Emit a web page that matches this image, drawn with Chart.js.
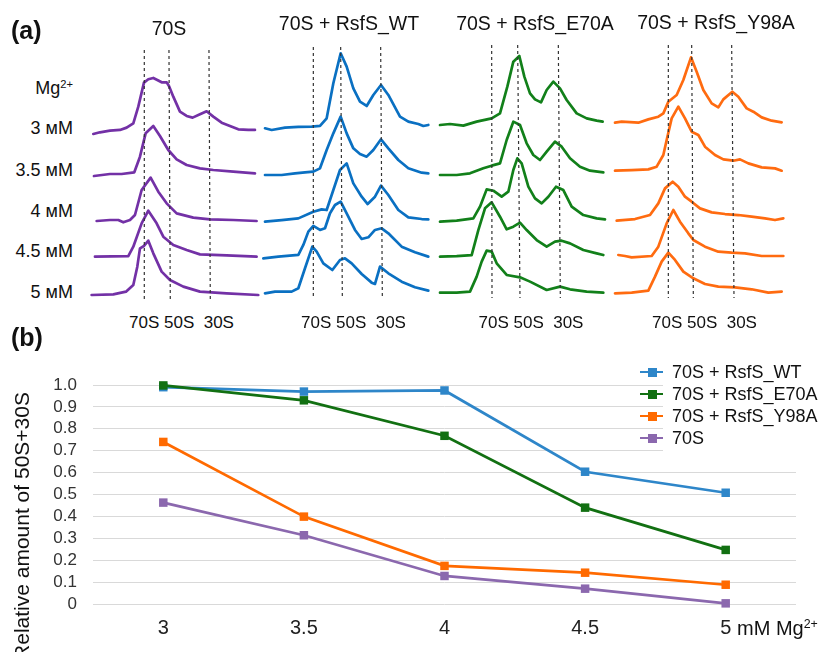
<!DOCTYPE html>
<html>
<head>
<meta charset="utf-8">
<script src="https://cdn.jsdelivr.net/npm/chart.js@4.4.0/dist/chart.umd.min.js"></script>
<style>
  body { margin: 0; width: 820px; height: 652px; overflow: hidden; background: #fff; position: relative;
         font-family: "Liberation Sans", Arial, sans-serif; color: #111; }
  canvas { position: absolute; }
  .t { position: absolute; white-space: pre; line-height: 1; }
  .c { transform: translate(-50%, -50%); }
  .r { transform: translate(-100%, -50%); }
  .l { transform: translate(0, -50%); }
  sup { font-size: 0.62em; vertical-align: 0.55em; line-height: 0; }
</style>
</head>
<body>
<script>
// ---------- data ----------
const panelTitles = ['70S', '70S + RsfS_WT', '70S + RsfS_E70A', '70S + RsfS_Y98A'];
const mgRows = ['3 мМ', '3.5 мМ', '4 мМ', '4.5 мМ', '5 мМ'];
const peakNames = '70S 50S  30S';

// sucrose gradient profiles, [position, absorbance] (a.u.), one list per Mg2+ row
const profile70S = [
  [[0,-2],[20,3],[50,8],[80,10],[100,17],[120,30],[135,80],[152,152],[165,162],[180,166],[192,160],[205,153],[220,153],[227,142],[240,110],[260,65],[280,52],[298,47],[320,57],[340,66],[360,50],[385,32],[410,22],[435,12],[465,10],[485,10]],
  [[2,0],[50,6],[85,6],[123,11],[140,58],[157,128],[180,150],[200,120],[225,78],[250,50],[280,33],[320,23],[360,18],[420,13],[485,8]],
  [[10,0],[50,3],[75,3],[90,-4],[110,3],[125,18],[145,93],[172,130],[195,88],[220,53],[250,23],[300,10],[350,5],[420,3],[490,0]],
  [[5,0],[105,2],[120,30],[145,100],[165,138],[190,100],[210,60],[240,35],[280,20],[320,7],[400,4],[490,0]],
  [[-5,0],[60,2],[98,10],[120,30],[132,85],[140,140],[152,147],[165,163],[180,125],[205,70],[230,45],[270,25],[320,10],[400,5],[495,0]]
];
const profileWT = [
  [[0,0],[20,-5],[60,2],[100,4],[140,5],[165,7],[185,30],[205,135],[227,225],[245,185],[265,120],[285,80],[305,67],[325,100],[348,130],[370,100],[405,35],[430,20],[460,13],[475,7],[490,10]],
  [[0,0],[50,0],[90,5],[120,8],[145,10],[165,20],[185,75],[205,125],[227,175],[245,125],[265,80],[285,63],[305,55],[325,75],[348,107],[370,80],[400,45],[430,20],[470,7],[490,5]],
  [[0,0],[50,5],[100,10],[145,30],[170,37],[185,35],[205,95],[225,155],[245,175],[265,115],[290,75],[308,53],[330,75],[348,108],[370,80],[400,35],[430,13],[470,8],[490,7]],
  [[-5,0],[40,5],[100,10],[115,40],[130,80],[145,97],[165,85],[180,90],[195,135],[210,160],[227,170],[245,135],[270,85],[290,58],[310,63],[330,85],[350,90],[370,75],[410,35],[450,18],[490,5]],
  [[0,0],[30,5],[80,5],[100,15],[120,75],[142,140],[155,125],[175,90],[202,70],[225,100],[240,105],[260,90],[290,58],[320,32],[330,28],[345,80],[370,60],[410,35],[450,18],[490,8]]
];
const profileE70A = [
  [[0,0],[30,3],[70,-2],[110,10],[155,20],[180,35],[202,115],[220,190],[238,207],[253,145],[270,95],[285,77],[303,68],[320,105],[340,130],[360,110],[380,75],[410,35],[440,20],[470,13],[488,10]],
  [[0,0],[50,0],[90,5],[130,20],[155,28],[180,35],[200,105],[220,160],[240,150],[260,95],[280,60],[300,45],[320,70],[345,100],[365,85],[390,50],[420,25],[450,13],[490,8]],
  [[0,0],[50,3],[100,10],[120,45],[140,97],[160,93],[185,75],[205,90],[220,155],[232,190],[245,175],[265,105],[285,70],[305,55],[325,75],[348,105],[370,95],[395,45],[430,20],[470,10],[495,7]],
  [[0,0],[50,2],[95,5],[115,80],[135,145],[155,163],[180,120],[200,82],[220,90],[240,102],[260,80],[290,50],[320,30],[345,45],[365,48],[390,40],[430,20],[470,10],[490,5]],
  [[0,2],[50,2],[90,5],[110,50],[125,95],[140,128],[155,125],[170,90],[200,55],[240,48],[270,35],[320,10],[360,20],[390,12],[440,5],[490,2]]
];
const profileY98A = [
  [[0,0],[20,3],[70,0],[100,10],[130,18],[145,28],[160,63],[185,83],[205,128],[228,196],[245,153],[265,98],[290,58],[310,46],[325,70],[352,93],[370,78],[395,43],[415,33],[440,16],[470,6],[500,1]],
  [[0,0],[50,2],[100,4],[125,12],[145,47],[155,92],[170,157],[190,192],[210,157],[230,117],[250,107],[270,72],[300,47],[325,34],[355,30],[375,34],[400,22],[440,10],[480,7],[500,0]],
  [[5,0],[60,5],[105,17],[130,52],[150,97],[173,117],[190,102],[210,72],[230,57],[255,37],[290,25],[330,20],[370,17],[410,12],[450,7],[480,2],[505,7]],
  [[10,0],[30,-3],[50,-7],[110,-3],[130,25],[155,95],[175,135],[195,100],[220,65],[235,45],[270,25],[310,10],[350,7],[390,5],[440,-3],[505,-3]],
  [[0,0],[50,2],[100,8],[120,50],[140,95],[160,122],[180,100],[205,65],[235,45],[270,28],[310,20],[360,18],[410,12],[460,2],[500,5]]
];
// 70S / 50S / 30S reference positions [top, bottom] per panel
const peakGuides = [
  [[153,153],[227,231],[347,351]],
  [[145,145],[227,232],[347,352]],
  [[155,156],[233,240],[355,361]],
  [[160,160],[230,235],[350,357]]
];

// panel (b)
const mgConc = ['3', '3.5', '4', '4.5', '5'];
const seriesNames = ['70S + RsfS_WT', '70S + RsfS_E70A', '70S + RsfS_Y98A', '70S'];
const relWT   = [0.99, 0.97, 0.975, 0.604, 0.508];
const relE70A = [0.998, 0.93, 0.768, 0.44, 0.247];
const relY98A = [0.74, 0.399, 0.174, 0.143, 0.088];
const rel70S  = [0.463, 0.314, 0.128, 0.07, 0.003];
const yTicks  = [0, 0.1, 0.2, 0.3, 0.4, 0.5, 0.6, 0.7, 0.8, 0.9, 1.0];

// ---------- layout ----------
const FONT = '"Liberation Sans", Arial, sans-serif';
const CH = 310;           // canvas height of panel (a)
const U = 3;              // a.u. per pixel
const profiles = [profile70S, profileWT, profileE70A, profileY98A];
const profileColors = ['#7331a6', '#0a70c2', '#12801a', '#ff6b10'];
const panelGeom = [
  {start: 93.3, end: 256.7, base: [133.3, 176, 221, 256.7, 295], gTop: 50, gBot: 302, title: [169, 29], names: 181.5},
  {start: 265, end: 428.3, base: [128.3, 175, 221.7, 258.3, 293.3], gTop: 47, gBot: 298, title: [349, 24], names: 353.5},
  {start: 440, end: 603.3, base: [125, 175, 221.7, 256.7, 293.3], gTop: 45, gBot: 298, title: [535, 24], names: 531},
  {start: 615, end: 783.3, base: [122.7, 170.7, 220.7, 255, 293.3], gTop: 45, gBot: 298, title: [716, 23], names: 704.5}
];

function addText(html, x, y, cls, style) {
  const d = document.createElement('div');
  d.className = 't ' + cls;
  d.innerHTML = html;
  d.style.left = x + 'px';
  d.style.top = y + 'px';
  Object.assign(d.style, style || {});
  document.body.appendChild(d);
  return d;
}

function addCanvas(left, top, w, h) {
  const cv = document.createElement('canvas');
  cv.width = w; cv.height = h;
  cv.style.left = left + 'px'; cv.style.top = top + 'px';
  document.body.appendChild(cv);
  return cv;
}

// ---------- panel (a) ----------
panelGeom.forEach((g, i) => {
  const left = Math.floor(g.start) - 6;
  const width = Math.ceil(g.end - left) + 6;
  const cv = addCanvas(left, 0, width, CH);
  const xMin = -(g.start - left) * U;

  const datasets = [];
  peakGuides[i].forEach(([xt, xb]) => {
    datasets.push({
      data: [{x: xt, y: (CH - g.gTop) * U}, {x: xb, y: (CH - g.gBot) * U}],
      borderColor: '#333', borderWidth: 1.2, borderDash: [3, 3], showLine: true, pointRadius: 0
    });
  });
  profiles[i].forEach((trace, r) => {
    const off = (CH - g.base[r]) * U;
    datasets.push({
      data: trace.map(([x, h]) => ({x: x, y: h + off})),
      borderColor: profileColors[i], borderWidth: 2.7, showLine: true, pointRadius: 0, tension: 0,
      borderJoinStyle: 'round', borderCapStyle: 'round'
    });
  });

  new Chart(cv, {
    type: 'scatter',
    data: {datasets},
    options: {
      responsive: false, animation: false,
      layout: {padding: 0},
      scales: {
        x: {type: 'linear', display: false, min: xMin, max: xMin + width * U},
        y: {type: 'linear', display: false, min: 0, max: CH * U}
      },
      plugins: {legend: {display: false}, tooltip: {enabled: false}}
    }
  });

  addText(panelTitles[i], g.title[0], g.title[1], 'c', {fontSize: '19.5px'});
  addText(peakNames, g.names, 322, 'c', {fontSize: '17px'});
});

addText('(a)', 11, 30, 'l', {fontSize: '25px', fontWeight: 'bold'});
addText('Mg<sup>2+</sup>', 73, 88, 'r', {fontSize: '18px'});
const rowLabelY = [128, 170, 211, 251, 292];
mgRows.forEach((t, r) => addText(t, 73, rowLabelY[r], 'r', {fontSize: '18px'}));

// ---------- panel (b) ----------
const seriesColors = ['#2e86c9', '#127012', '#ff6a00', '#8b68ae'];
const seriesData = [relWT, relE70A, relY98A, rel70S];
const drawOrder = [2, 1, 3, 4];

const cvB = addCanvas(0, 340, 820, 312);
new Chart(cvB, {
  type: 'line',
  data: {
    labels: mgConc,
    datasets: seriesData.map((d, i) => ({
      label: seriesNames[i],
      data: d,
      borderColor: seriesColors[i],
      backgroundColor: seriesColors[i],
      borderWidth: 2.7,
      pointStyle: 'rect',
      pointRadius: 6,
      pointBorderWidth: 0,
      tension: 0,
      clip: false,
      order: drawOrder[i]
    }))
  },
  options: {
    responsive: false, animation: false,
    layout: {padding: {left: 0, right: 24, top: 45, bottom: 0}},
    scales: {
      x: {
        offset: true,
        grid: {display: false},
        border: {display: false},
        ticks: {color: '#222', font: {family: FONT, size: 20}, padding: 4},
        afterFit: s => { s.height = 48; }
      },
      y: {
        min: 0, max: 1,
        grid: {color: '#d9d9d9', lineWidth: 1, drawTicks: false},
        border: {display: false},
        afterBuildTicks: s => { s.ticks = yTicks.map(v => ({value: v})); },
        ticks: {
          autoSkip: false,
          color: '#333', font: {family: FONT, size: 17}, padding: 16,
          callback: v => v === 0 ? '0' : v.toFixed(1)
        },
        afterFit: s => { s.width = 93; }
      }
    },
    plugins: {legend: {display: false}, tooltip: {enabled: false}}
  }
});

addText('(b)', 11, 337, 'l', {fontSize: '25px', fontWeight: 'bold'});
addText('Relative amount of 50S+30S', 21, 526, '', {fontSize: '21px', transform: 'translate(-50%, -50%) rotate(-90deg)'});
addText('mM Mg<sup>2+</sup>', 737, 628, 'l', {fontSize: '20px'});

// legend sits on a white box, covering the gridlines
const box = document.createElement('div');
Object.assign(box.style, {position: 'absolute', left: '663px', top: '378px', width: '140px', height: '76px', background: '#fff'});
document.body.appendChild(box);
const legendY = [372, 394, 416, 438];
seriesNames.forEach((name, i) => {
  const line = document.createElement('div');
  Object.assign(line.style, {position: 'absolute', left: '640px', top: (legendY[i] - 1.35) + 'px', width: '23px', height: '2.7px', background: seriesColors[i]});
  document.body.appendChild(line);
  const sq = document.createElement('div');
  Object.assign(sq.style, {position: 'absolute', left: '647.5px', top: (legendY[i] - 4.5) + 'px', width: '9px', height: '9px', background: seriesColors[i]});
  document.body.appendChild(sq);
  addText(name, 672, legendY[i], 'l', {fontSize: '18px'});
});
</script>
</body>
</html>
